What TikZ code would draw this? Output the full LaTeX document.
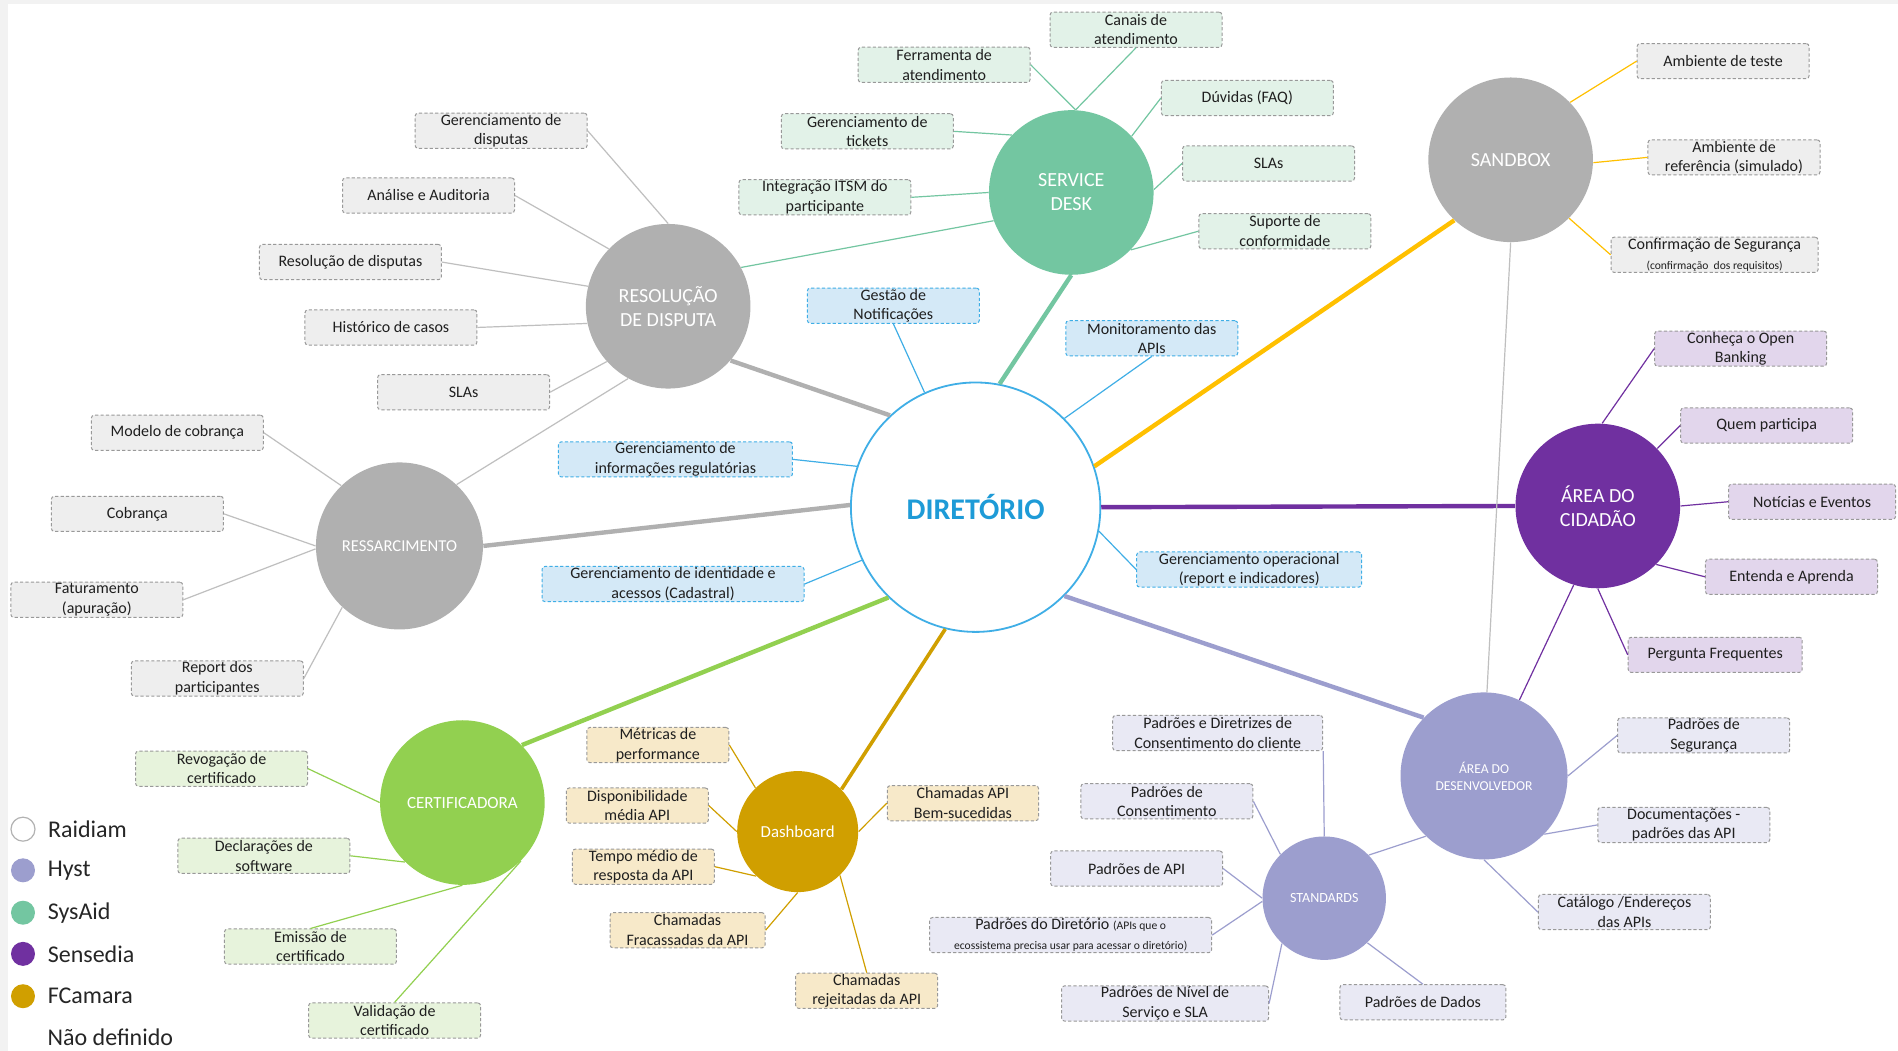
\documentclass[tikz,border=0pt]{standalone}
\usepackage{fontspec}
\setmainfont{Carlito}
\usepackage{tikz}
\usetikzlibrary{positioning}

\definecolor{framegray}{HTML}{F2F2F2}
\definecolor{dirblue}{HTML}{3FAEE6}
\definecolor{dirtext}{HTML}{1E9BD7}
\definecolor{sysaid}{HTML}{73C6A1}
\definecolor{hubgray}{HTML}{B0B0B0}
\definecolor{linegray}{HTML}{BFBFBF}
\definecolor{sensedia}{HTML}{7030A0}
\definecolor{hyst}{HTML}{9C9ECE}
\definecolor{certgreen}{HTML}{92D050}
\definecolor{fcamara}{HTML}{D09F00}
\definecolor{sbline}{HTML}{FFC000}
\definecolor{mintfill}{HTML}{E2F2E8}
\definecolor{grayfill}{HTML}{EEEEEE}
\definecolor{bluefill}{HTML}{D4E9F7}
\definecolor{purplefill}{HTML}{E2D6EC}
\definecolor{lavfill}{HTML}{E9E9F4}
\definecolor{greenfill}{HTML}{E7F3DC}
\definecolor{goldfill}{HTML}{F7E9C9}

\tikzset{
  hub/.style={circle, inner sep=0pt, minimum size=82.3pt, align=center, text=white,
    font=\fontsize{10}{12}\selectfont},
  leaf/.style={rectangle, rounded corners=1.5pt, draw=black!40, dash pattern=on 1.6pt off 1.1pt,
    line width=0.5pt, minimum width=86pt, minimum height=17.6pt, inner xsep=0.5pt, inner ysep=0pt,
    align=center, text=black!88, font=\fontsize{8}{9.8}\selectfont},
  mintleaf/.style={leaf, fill=mintfill},
  grayleaf/.style={leaf, fill=grayfill},
  blueleaf/.style={leaf, fill=bluefill, draw=dirblue},
  purpleleaf/.style={leaf, fill=purplefill},
  lavleaf/.style={leaf, fill=lavfill},
  greenleaf/.style={leaf, fill=greenfill},
  goldleaf/.style={leaf, fill=goldfill, minimum width=71pt},
  trunk/.style={line width=2.2pt},
  twig/.style={line width=0.6pt},
  legdot/.style={circle, inner sep=0pt, minimum size=12pt},
  legtext/.style={inner sep=0pt, anchor=west, font=\fontsize{12}{14}\selectfont, text=black!85}
}

\begin{document}
\begin{tikzpicture}[x=0.6052pt, y=-0.6052pt]

\useasboundingbox (0,0) rectangle (1568,868);
\fill[framegray] (0,0) rectangle (1568,868);
\fill[white] (7,3) rectangle (1568,868);

% Define hubs
\node[hub, fill=white, draw=dirblue, line width=0.9pt, minimum size=124.7pt, text=dirtext,
  font=\fontsize{15}{18}\selectfont\bfseries] (dir) at (806,419) {DIRETÓRIO};
\node[hub, fill=sysaid] (sd) at (885,159) {SERVICE\\DESK};
\node[hub, fill=hubgray] (res) at (552,253) {RESOLUÇÃO\\DE DISPUTA};
\node[hub, fill=hubgray, minimum size=83.5pt, font=\fontsize{8.3}{10}\selectfont] (ress) at (330,451) {RESSARCIMENTO};
\node[hub, fill=hubgray] (sb) at (1248,132) {SANDBOX};
\node[hub, fill=sensedia] (cid) at (1320,418) {ÁREA DO\\CIDADÃO};
\node[hub, fill=hyst, minimum size=83.5pt, font=\fontsize{6.8}{8.5}\selectfont] (dev) at (1226,641) {ÁREA DO\\DESENVOLVEDOR};
\node[hub, fill=hyst, minimum size=61.7pt, font=\fontsize{7}{8}\selectfont] (std) at (1094,742) {STANDARDS};
\node[hub, fill=certgreen, font=\fontsize{8.5}{10}\selectfont] (cert) at (382,663) {CERTIFICADORA};
\node[hub, fill=fcamara, minimum size=60.5pt, font=\fontsize{8.4}{10}\selectfont] (dash) at (659,687) {Dashboard};

% Service Desk
\node[mintleaf] (sdCan) at (938.5,24.5) {Canais de\\atendimento};
\node[mintleaf] (sdFer) at (780,53.5) {Ferramenta de\\atendimento};
\node[mintleaf] (sdDuv) at (1030.5,81) {Dúvidas (FAQ)};
\node[mintleaf] (sdTic) at (716.5,108.5) {Gerenciamento de\\tickets};
\node[mintleaf] (sdSla) at (1048,135) {SLAs};
\node[mintleaf] (sdItsm) at (681.5,163) {Integração ITSM do\\participante};
\node[mintleaf] (sdSup) at (1061.5,191) {Suporte de\\conformidade};

% Resolucao de disputa
\node[grayleaf] (resGer) at (414,108) {Gerenciamento de\\disputas};
\node[grayleaf] (resAna) at (354,161.5) {Análise e Auditoria};
\node[grayleaf, minimum width=91pt] (resRes) at (289.5,216.5) {Resolução de disputas};
\node[grayleaf] (resHis) at (323,270.5) {Histórico de casos};
\node[grayleaf] (resSla) at (383,324) {SLAs};

% Ressarcimento
\node[grayleaf] (ressMod) at (146.5,357.5) {Modelo de cobrança};
\node[grayleaf] (ressCob) at (113.5,424.5) {Cobrança};
\node[grayleaf] (ressFat) at (80,495.5) {Faturamento\\(apuração)};
\node[grayleaf] (ressRep) at (179.5,560.5) {Report dos\\participantes};

% Diretorio
\node[blueleaf] (dirGes) at (738,252.5) {Gestão de\\Notificações};
\node[blueleaf] (dirMon) at (951.5,279.5) {Monitoramento das\\APIs};
\node[blueleaf, minimum width=117pt] (dirInf) at (558,379.5) {Gerenciamento de\\informações regulatórias};
\node[blueleaf, minimum width=131pt] (dirIde) at (556,482.5) {Gerenciamento de identidade e\\acessos (Cadastral)};
\node[blueleaf, minimum width=112.5pt] (dirOpe) at (1032,470.5) {Gerenciamento operacional\\(report e indicadores)};

% Sandbox
\node[grayleaf] (sbAmb) at (1423.5,50.5) {Ambiente de teste};
\node[grayleaf] (sbRef) at (1432.5,130) {Ambiente de\\referência (simulado)};
\node[grayleaf, minimum width=103.5pt] (sbCon) at (1416.5,210.5)
  {Confirmação de Segurança\\{\fontsize{5.8}{6.5}\selectfont (confirmação\ \ dos requisitos)}};

% Area do cidadao
\node[purpleleaf] (cidCon) at (1438,288) {Conheça o Open\\Banking};
\node[purpleleaf] (cidQue) at (1459.5,351.5) {Quem participa};
\node[purpleleaf, minimum width=83.5pt] (cidNot) at (1497,414.5) {Notícias e Eventos};
\node[purpleleaf] (cidEnt) at (1480,476.5) {Entenda e Aprenda};
\node[purpleleaf, minimum width=87pt] (cidPer) at (1417,541) {Pergunta Frequentes};

% Area do desenvolvedor
\node[lavleaf] (devSeg) at (1407.5,607.5) {Padrões de\\Segurança};
\node[lavleaf] (devDoc) at (1391,681.5) {Documentações -\\padrões das API};
\node[lavleaf] (devCat) at (1342,753.5) {Catálogo /Endereços\\das APIs};

% Standards
\node[lavleaf, minimum width=105pt] (stdDir) at (1006,605.5) {Padrões e Diretrizes de\\Consentimento do cliente};
\node[lavleaf] (stdCon) at (964,662) {Padrões de\\Consentimento};
\node[lavleaf] (stdApi) at (939,717.5) {Padrões de API};
\node[lavleaf, minimum width=141pt] (stdDie) at (884.5,772.5)
  {Padrões do Diretório {\fontsize{5.8}{6.5}\selectfont (APIs que o}\\{\fontsize{5.8}{6.5}\selectfont ecossistema precisa usar para acessar o diretório)}};
\node[lavleaf, minimum width=103.5pt] (stdNiv) at (962.5,829) {Padrões de Nível de\\Serviço e SLA};
\node[lavleaf, minimum width=83pt] (stdDad) at (1175.5,828) {Padrões de Dados};

% Certificadora
\node[greenleaf] (certRev) at (183,635) {Revogação de\\certificado};
\node[greenleaf] (certDec) at (218,707) {Declarações de\\software};
\node[greenleaf] (certEmi) at (256.5,782) {Emissão de\\certificado};
\node[greenleaf] (certVal) at (326,843) {Validação de\\certificado};

% Dashboard
\node[goldleaf] (dashMet) at (543.5,615.5) {Métricas de\\performance};
\node[goldleaf] (dashDis) at (526.5,665.5) {Disponibilidade\\média API};
\node[goldleaf] (dashTem) at (531.5,716) {Tempo médio de\\resposta da API};
\node[goldleaf, minimum width=77.5pt] (dashFra) at (568,768.5) {Chamadas\\Fracassadas da API};
\node[goldleaf] (dashRej) at (716,818.5) {Chamadas\\rejeitadas da API};
\node[goldleaf, minimum width=75.6pt] (dashBem) at (795.5,663.5) {Chamadas API\\Bem-sucedidas};

% Trunks from the directory
\draw[trunk, sysaid] (dir.79) -- (sd.-90);
\draw[trunk, hubgray] (dir.133) -- (res.-41);
\draw[trunk, hubgray] (dir.179) -- (ress.0);
\draw[trunk, sbline] (dir.19) -- (sb.227);
\draw[trunk, sensedia] (dir.0) -- (cid.180);
\draw[trunk, hyst] (dir.-45) -- (dev.136);
\draw[trunk, certgreen] (dir.226) -- (cert.44);
\draw[trunk, fcamara, line width=1.8pt] (dir.256) -- (dash.44);

% Links between hubs
\draw[twig, sysaid] (res.28) -- (sd.200);
\draw[twig, linegray] (ress.47) -- (res.241);
\draw[twig, linegray] (sb.-90) -- (dev.88);
\draw[twig, sensedia] (cid.253) -- (dev.65);
\draw[twig, hyst] (std.44) -- (dev.226);

% Twigs
\draw[twig, sysaid] (sdCan.south) -- (sd.87);
\draw[twig, sysaid] (sdFer.east) -- (sd.87);
\draw[twig, sysaid] (sdDuv.west) -- (sd.43);
\draw[twig, sysaid] (sdTic.east) -- (sd.136);
\draw[twig, sysaid] (sdSla.west) -- (sd.2);
\draw[twig, sysaid] (sdItsm.east) -- (sd.180);
\draw[twig, sysaid] (sdSup.west) -- (sd.-44);

\draw[twig, linegray] (resGer.east) -- (res.90);
\draw[twig, linegray] (resAna.east) -- (res.136);
\draw[twig, linegray] (resRes.east) -- (res.166);
\draw[twig, linegray] (resHis.east) -- (res.192);
\draw[twig, linegray] (resSla.east) -- (res.222);

\draw[twig, linegray] (ressMod.east) -- (ress.134);
\draw[twig, linegray] (ressCob.east) -- (ress.180);
\draw[twig, linegray] (ressFat.east) -- (ress.182);
\draw[twig, linegray] (ressRep.east) -- (ress.227);

\draw[twig, dirblue] (dirGes.south) -- (dir.114);
\draw[twig, dirblue] (dirMon.south) -- (dir.45);
\draw[twig, dirblue] (dirInf.east) -- (dir.161);
\draw[twig, dirblue] (dirIde.east) -- (dir.205);
\draw[twig, dirblue] (dirOpe.west) -- (dir.-11);

\draw[twig, sbline] (sbAmb.west) -- (sb.44);
\draw[twig, sbline] (sbRef.west) -- (sb.-2);
\draw[twig, sbline] (sbCon.west) -- (sb.-45);

\draw[twig, sensedia] (cidCon.west) -- (cid.87);
\draw[twig, sensedia] (cidQue.west) -- (cid.44);
\draw[twig, sensedia] (cidNot.west) -- (cid.0);
\draw[twig, sensedia] (cidEnt.west) -- (cid.-45);
\draw[twig, sensedia] (cidPer.west) -- (cid.-90);

\draw[twig, hyst] (devSeg.west) -- (dev.0);
\draw[twig, hyst] (devDoc.west) -- (dev.-44);
\draw[twig, hyst] (devCat.west) -- (dev.-90);

\draw[twig, hyst] (stdDir.south east) -- (std.90);
\draw[twig, hyst] (stdCon.east) -- (std.135);
\draw[twig, hyst] (stdApi.east) -- (std.180);
\draw[twig, hyst] (stdDie.east) -- (std.183);
\draw[twig, hyst] (stdNiv.east) -- (std.227);
\draw[twig, hyst] (stdDad.north) -- (std.-46);

\draw[twig, certgreen] (certRev.east) -- (cert.180);
\draw[twig, certgreen] (certDec.east) -- (cert.226);
\draw[twig, certgreen] (certEmi.north) -- (cert.-90);
\draw[twig, certgreen] (certVal.north) -- (cert.-45);

\draw[twig, fcamara] (dashMet.east) -- (dash.134);
\draw[twig, fcamara] (dashDis.east) -- (dash.180);
\draw[twig, fcamara] (dashTem.east) -- (dash.227);
\draw[twig, fcamara] (dashFra.east) -- (dash.-90);
\draw[twig, fcamara] (dashRej.north) -- (dash.-46);
\draw[twig, fcamara] (dashBem.west) -- (dash.0);

% Legend
\node[legdot, fill=white, draw=black!30, line width=0.6pt] (lRai) at (19,685) {};
\node[legdot, fill=hyst] (lHys) at (19,719) {};
\node[legdot, fill=sysaid] (lSys) at (19,754) {};
\node[legdot, fill=sensedia] (lSen) at (19,788) {};
\node[legdot, fill=fcamara] (lFca) at (19,823) {};
\node[legtext, right=6pt of lRai] (tRai) {Raidiam};
\node[legtext, right=6pt of lHys] (tHys) {Hyst};
\node[legtext, right=6pt of lSys] (tSys) {SysAid};
\node[legtext, right=6pt of lSen] (tSen) {Sensedia};
\node[legtext, right=6pt of lFca] (tFca) {FCamara};
\node[legtext] (tNao) at (39,857) {Não definido};

\end{tikzpicture}
\end{document}
